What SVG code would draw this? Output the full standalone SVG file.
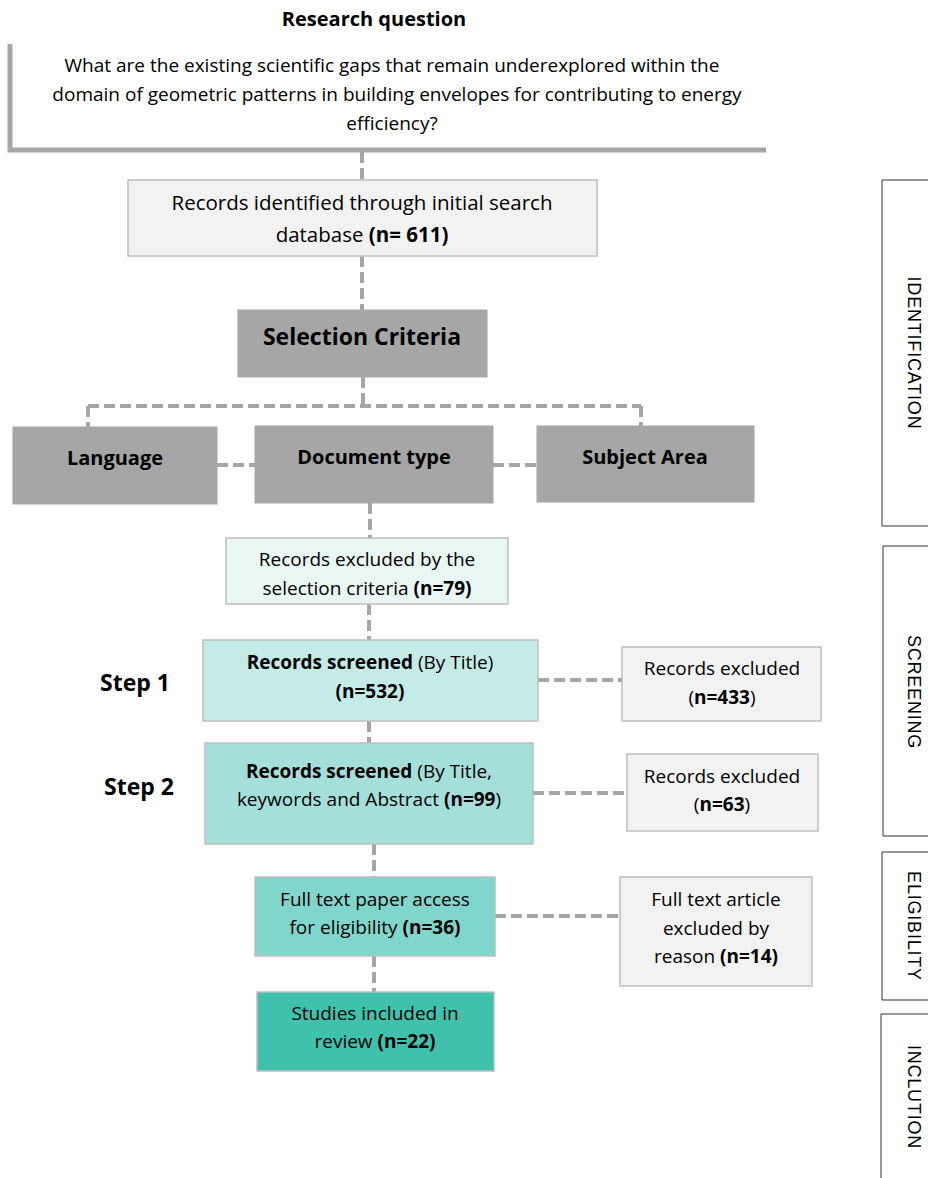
<svg xmlns="http://www.w3.org/2000/svg" width="928" height="1178" viewBox="0 0 928 1178">
<style>
text{font-family:"Open Sans","Liberation Sans",sans-serif;fill:#000;text-anchor:middle}
.t{font-size:19px}
.b{font-weight:bold}
.box{stroke:#bfbfbf;stroke-width:1.5}
.gray{fill:#a6a6a6;stroke:#a6a6a6}
.conn{stroke:#a6a6a6;stroke-width:4;stroke-dasharray:11 5;fill:none}
.side{fill:#fff;stroke:#333;stroke-width:1}
.sl{font-size:18px;letter-spacing:0.8px;font-family:"Liberation Sans",Arial,sans-serif}
</style>
<rect width="928" height="1178" fill="#fff"/>
<g id="connectors">
<path class="conn" d="M362 152V180M362 256V310M363 377V406M88 406H641M88 406V427M641 406V427M217 465H255M493 465H537M370 503V538M369 604V640M538 680H622M369 721V743M533 793H627M374 844V877M495 916H620M374 956V992"/>
</g>
<g id="research">
<text x="374" y="26" style="font-size:20px" class="b">Research question</text>
<rect x="10" y="44" width="756" height="106" fill="#fff"/>
<path d="M10 44V150H766" fill="none" stroke="#a6a6a6" stroke-width="5"/>
<text class="t" x="392" y="72">What are the existing scientific gaps that remain underexplored within the</text>
<text class="t" x="397" y="101">domain of geometric patterns in building envelopes for contributing to energy</text>
<text class="t" x="392" y="130">efficiency?</text>
</g>
<g id="identified">
<rect class="box" x="128" y="180" width="469" height="76" fill="#f2f2f2"/>
<text x="362" y="210" style="font-size:20.5px">Records identified through initial search</text>
<text x="362" y="242" style="font-size:20.5px">database <tspan class="b">(n= 611)</tspan></text>
</g>
<g id="selection">
<rect class="gray" x="238" y="310" width="249" height="67"/>
<text x="362" y="345" class="b" style="font-size:23px">Selection Criteria</text>
</g>
<g id="language">
<rect class="gray" x="13" y="427" width="204" height="77"/>
<text x="115" y="465" class="b" style="font-size:20px">Language</text>
</g>
<g id="doctype">
<rect class="gray" x="255" y="426" width="238" height="77"/>
<text x="374" y="464" class="b" style="font-size:20px">Document type</text>
</g>
<g id="subject">
<rect class="gray" x="537" y="426" width="217" height="76"/>
<text x="645" y="464" class="b" style="font-size:20px">Subject Area</text>
</g>
<g id="excluded-criteria">
<rect class="box" x="226" y="538" width="282" height="66" fill="#e8f6f4"/>
<text class="t" x="367" y="566">Records excluded by the</text>
<text class="t" x="367" y="595">selection criteria <tspan class="b">(n=79)</tspan></text>
</g>
<g id="step1-label"><text x="135" y="691" class="b" style="font-size:23px">Step 1</text></g>
<g id="step1">
<rect class="box" x="203" y="640" width="335" height="81" fill="#c5ebe7"/>
<text class="t" x="370" y="669"><tspan class="b">Records screened</tspan> (By Title)</text>
<text class="t b" x="370" y="698">(n=532)</text>
</g>
<g id="excl433">
<rect class="box" x="622" y="647" width="199" height="74" fill="#f2f2f2"/>
<text class="t" x="722" y="675">Records excluded</text>
<text class="t" x="722" y="704">(<tspan class="b">n=433</tspan>)</text>
</g>
<g id="step2-label"><text x="139" y="795" class="b" style="font-size:23px">Step 2</text></g>
<g id="step2">
<rect class="box" x="205" y="743" width="328" height="101" fill="#a4e0d9"/>
<text class="t" x="369" y="778"><tspan class="b">Records screened</tspan> (By Title,</text>
<text class="t" x="369" y="806">keywords and Abstract <tspan class="b">(n=99</tspan>)</text>
</g>
<g id="excl63">
<rect class="box" x="627" y="754" width="191" height="77" fill="#f2f2f2"/>
<text class="t" x="722" y="783">Records excluded</text>
<text class="t" x="722" y="811">(<tspan class="b">n=63</tspan>)</text>
</g>
<g id="fulltext">
<rect class="box" x="255" y="877" width="240" height="79" fill="#80d6ca"/>
<text class="t" x="375" y="906">Full text paper access</text>
<text class="t" x="375" y="934">for eligibility <tspan class="b">(n=36)</tspan></text>
</g>
<g id="excl14">
<rect class="box" x="620" y="877" width="192" height="109" fill="#f2f2f2"/>
<text class="t" x="716" y="906">Full text article</text>
<text class="t" x="716" y="935">excluded by</text>
<text class="t" x="716" y="963">reason <tspan class="b">(n=14)</tspan></text>
</g>
<g id="included">
<rect class="box" x="257" y="992" width="237" height="79" fill="#40c1ad"/>
<text class="t" x="375" y="1020">Studies included in</text>
<text class="t" x="375" y="1048">review <tspan class="b">(n=22)</tspan></text>
</g>
<g id="phase-identification">
<path class="side" d="M929 180H882V526H929"/>
<text class="sl" transform="translate(908 353) rotate(90)">IDENTIFICATION</text>
</g>
<g id="phase-screening">
<path class="side" d="M929 546H883V836H929"/>
<text class="sl" transform="translate(908 692) rotate(90)">SCREENING</text>
</g>
<g id="phase-eligibility">
<path class="side" d="M929 852H882V1000H929"/>
<text class="sl" transform="translate(908 926) rotate(90)">ELIGIBILITY</text>
</g>
<g id="phase-inclution">
<path class="side" d="M929 1014H881V1179"/>
<text class="sl" transform="translate(908 1097) rotate(90)">INCLUTION</text>
</g>
</svg>
